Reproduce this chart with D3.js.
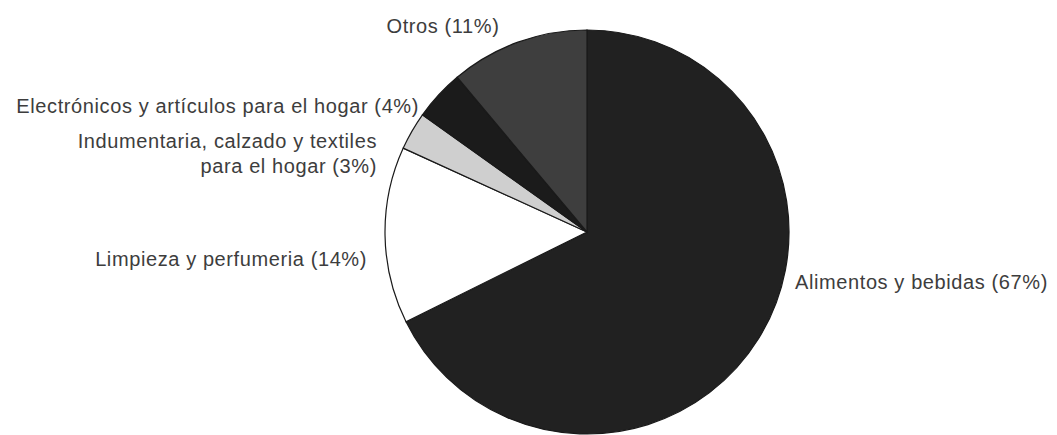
<!DOCTYPE html>
<html>
<head>
<meta charset="utf-8">
<script src="https://cdn.jsdelivr.net/npm/d3@7"></script>
<style>
  body { margin: 0; background: #fff; }
  svg text { font-family: "Liberation Sans", Arial, sans-serif; font-size: 20px; letter-spacing: 0.6px; fill: #3d3d3d; }
</style>
</head>
<body>
<div id="chart"></div>
<script>
// datos del gráfico
var categorias = ["Alimentos y bebidas", "Limpieza y perfumeria", "Indumentaria, calzado y textiles para el hogar", "Electrónicos y artículos para el hogar", "Otros"];
var valores = [67, 14, 3, 4, 11];
var etiquetas = [
    ["Alimentos y bebidas (67%)"],
    ["Limpieza y perfumeria (14%)"],
    ["Indumentaria, calzado y textiles", "para el hogar (3%)"],
    ["Electrónicos y artículos para el hogar (4%)"],
    ["Otros (11%)"]
];

var colores = ["#212121", "#ffffff", "#cfcfcf", "#1b1b1b", "#3e3e3e"];

// posición de cada etiqueta (x, y de la línea base, anclaje)
var posEtiquetas = [
    { x: 795, y: 289, anchor: "start" },
    { x: 367, y: 266, anchor: "end" },
    { x: 377, y: 148, anchor: "end" },
    { x: 419, y: 113, anchor: "end" },
    { x: 443, y: 33, anchor: "middle" }
];

var width = 1057, height = 435;
var cx = 587, cy = 232, radio = 202;

var svg = d3.select("#chart")
    .append("svg")
    .attr("width", width)
    .attr("height", height);

var pie = d3.pie().sort(null).value(d => d);
var arc = d3.arc().innerRadius(0).outerRadius(radio);

var g = svg.append("g").attr("transform", "translate(" + cx + "," + cy + ")");

g.selectAll("path")
    .data(pie(valores))
    .enter()
    .append("path")
    .attr("d", arc)
    .attr("fill", (d, i) => colores[i])
    .attr("stroke", "#1a1a1a")
    .attr("stroke-width", 1.2);

// etiquetas
svg.selectAll("text.etq")
    .data(etiquetas)
    .enter()
    .append("text")
    .attr("class", "etq")
    .attr("x", (d, i) => posEtiquetas[i].x)
    .attr("y", (d, i) => posEtiquetas[i].y)
    .attr("text-anchor", (d, i) => posEtiquetas[i].anchor)
    .each(function (d, i) {
        var t = d3.select(this);
        d.forEach(function (linea, k) {
            t.append("tspan")
                .attr("x", posEtiquetas[i].x)
                .attr("dy", k === 0 ? 0 : 24.5)
                .text(linea);
        });
    });
</script>
</body>
</html>
